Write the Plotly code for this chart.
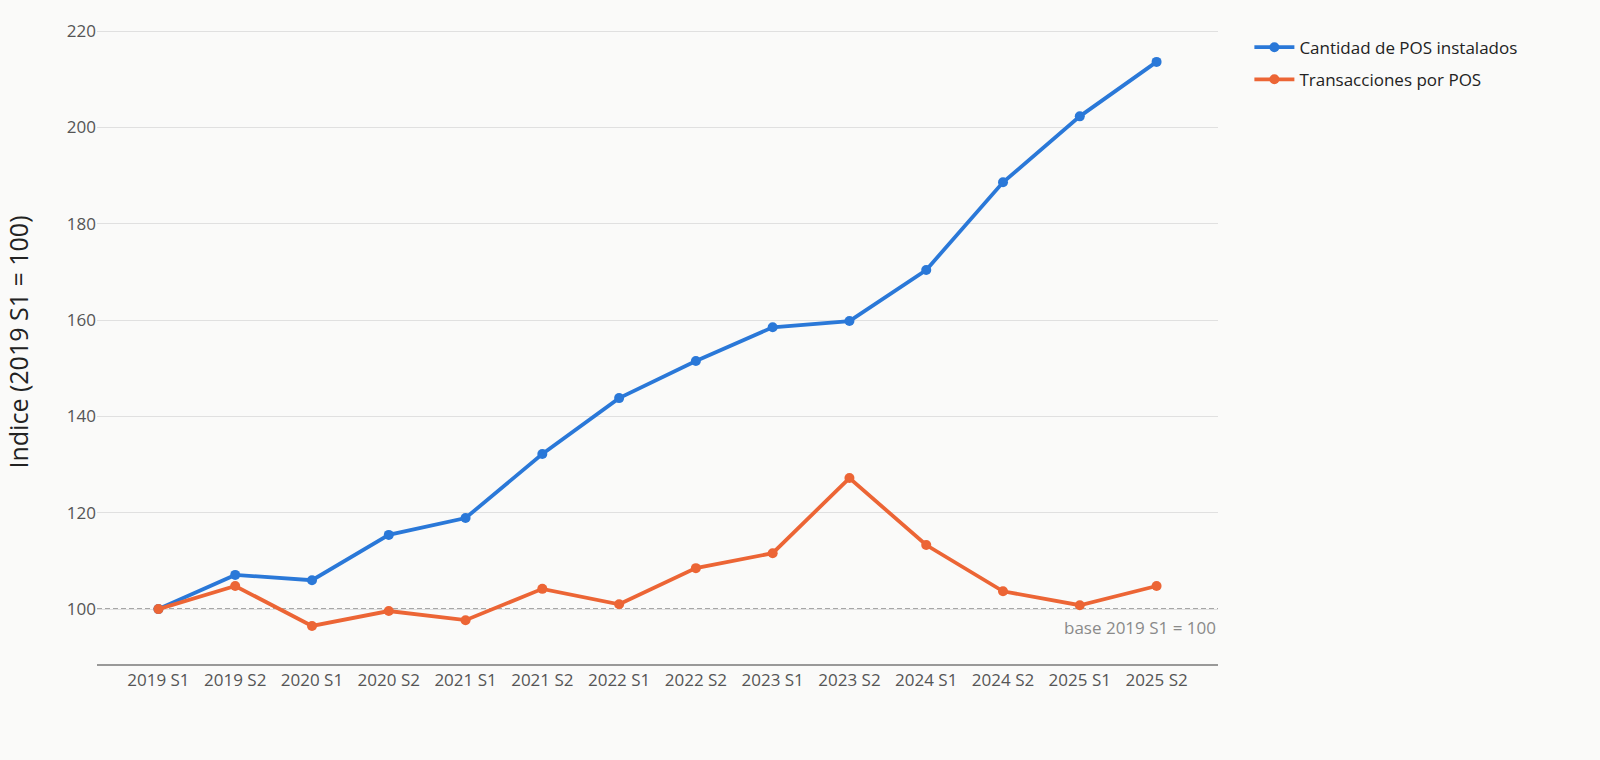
import plotly.graph_objects as go

periods = ["2019 S1", "2019 S2", "2020 S1", "2020 S2", "2021 S1", "2021 S2", "2022 S1",
           "2022 S2", "2023 S1", "2023 S2", "2024 S1", "2024 S2", "2025 S1", "2025 S2"]
pos_instalados = [100, 107.1, 106.0, 115.4, 118.9, 132.2, 143.8,
                  151.5, 158.5, 159.8, 170.4, 188.6, 202.3, 213.6]
trx_por_pos = [100, 104.8, 96.5, 99.6, 97.7, 104.2, 101.0,
               108.5, 111.6, 127.2, 113.3, 103.7, 100.8, 104.8]

fig = go.Figure()

fig.add_trace(go.Scatter(x=periods, y=pos_instalados, mode="lines+markers",
                         name="Cantidad de POS instalados", legendgroup="a",
                         line=dict(color="#2a78d8", width=3.8),
                         marker=dict(size=10, color="#2a78d8")))
fig.add_trace(go.Scatter(x=periods, y=trx_por_pos, mode="lines+markers",
                         name="Transacciones por POS", legendgroup="b",
                         line=dict(color="#ec6535", width=3.8),
                         marker=dict(size=10, color="#ec6535")))

# linea base 100
fig.add_shape(type="line", xref="paper", x0=0, x1=1, yref="y", y0=100, y1=100,
              line=dict(color="#8a8a8a", width=1.5, dash="5px,3px"), layer="below")
fig.add_annotation(xref="paper", x=1, y=100, yshift=-18, xanchor="right",
                   text="base 2019 S1 = 100", showarrow=False,
                   font=dict(size=17, color="#8a8a8a"))

fig.update_layout(
    width=1600, height=760,
    margin=dict(l=97, r=382, t=20, b=96),
    paper_bgcolor="#fafaf9", plot_bgcolor="#fafaf9",
    font=dict(family="Open Sans, Noto Sans, sans-serif", color="#555555", size=17),
    showlegend=True,
    legend=dict(x=1.028, y=0.985, xanchor="left", yanchor="top",
                font=dict(size=17, color="#222222"), bgcolor="rgba(0,0,0,0)",
                tracegroupgap=7, itemwidth=40),
)
fig.update_xaxes(range=[-0.8, 13.8], showgrid=False, showline=True,
                 linecolor="#999999", linewidth=1.5, ticks="", tickfont=dict(size=17))
fig.update_yaxes(range=[88.6, 222.3], tickvals=[100, 120, 140, 160, 180, 200, 220],
                 showgrid=True, gridcolor="#e0e0e0", gridwidth=1.2, zeroline=False,
                 tickfont=dict(size=17),
                 title=dict(text="Indice (2019 S1 = 100)", font=dict(size=25, color="#222222"),
                            standoff=31))

fig.write_html("out.html", config={"displayModeBar": False},
               post_script="document.body.style.margin='0';document.body.style.background='#fafaf9';")
